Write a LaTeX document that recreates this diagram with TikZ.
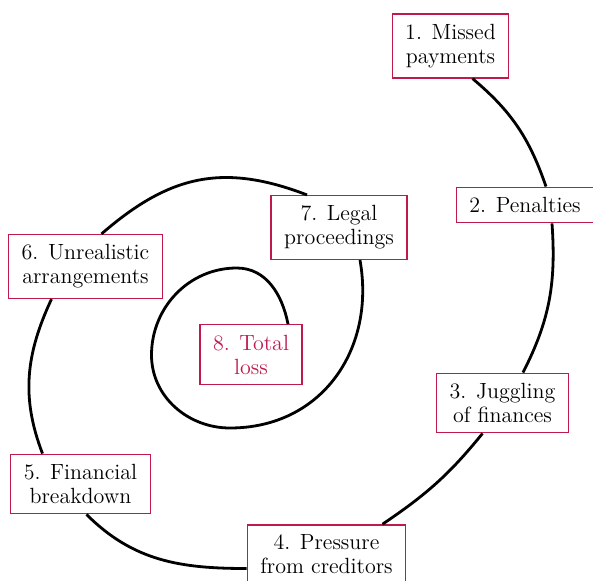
\documentclass[tikz,border=0pt]{standalone}
\definecolor{lossred}{RGB}{192,25,75}
\begin{document}
\begin{tikzpicture}[x=0.5pt,y=0.5pt,
    stage/.style={draw=lossred,line width=0.7pt,fill=white,align=center,
      inner xsep=6.5pt,inner ysep=5pt,font=\fontsize{11}{12}\selectfont},
    spiral/.style={line width=1.4pt}]
  \useasboundingbox (0,0) rectangle (593,580);
  \draw
    (450.5,534) node[stage] (1){1. Missed\\payments}
    (525,375) node[stage] (2){2. Penalties}
    (502.5,177) node[stage] (3){3. Juggling\\of finances}
    (326.5,25.5) node[stage] (4){4. Pressure\\from creditors}
    (80.5,96) node[stage] (5){5. Financial\\breakdown}
    (85.5,313.5) node[stage] (6){6. Unrealistic\\arrangements}
    (339,352.5) node[stage] (7){7. Legal\\proceedings}
    (251,225.5) node[stage,text=lossred] (8){8. Total\\loss};
  % inner loop
  \coordinate (loop1) at (230,152);
  \coordinate (loop2) at (151.5,225);
  \coordinate (loop3) at (236.7,312);
  \begin{scope}[spiral]
    \draw ([xshift=11pt]1.south) to[out=-40,in=109] ([xshift=10.5pt]2.north);
    \draw ([xshift=13.5pt]2.south) to[out=-86,in=63] ([xshift=10.25pt]3.north);
    \draw ([xshift=-10pt]3.south) to[out=-129,in=34] ([xshift=28pt]4.north);
    \draw ([yshift=-7pt]4.west) to[out=180,in=-45] ([xshift=3pt]5.south);
    \draw ([xshift=-19pt]5.north) to[out=111,in=-115] ([xshift=-17pt]6.south);
    \draw ([xshift=8pt]6.north) to[out=41,in=159,looseness=1.1] ([xshift=-16pt]7.north);
    \draw ([xshift=10.5pt]7.south) to[out=-80,in=0,looseness=1.1] (loop1)
      to[out=180,in=-90] (loop2) to[out=90,in=180] (loop3)
      to[out=0,in=101] ([xshift=18.5pt]8.north);
  \end{scope}
\end{tikzpicture}
\end{document}
